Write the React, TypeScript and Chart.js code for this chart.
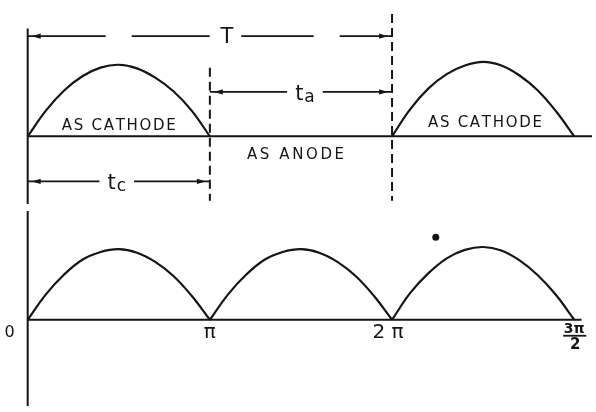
import React, { useEffect, useRef } from 'react';
import { Chart, registerables } from 'chart.js';

Chart.register(...registerables);

// ---- data (phase in units of pi, heights in units of peak amplitude) ----
const humpPhase = [0, 0.1, 0.2, 0.3, 0.4, 0.5, 0.6, 0.7, 0.8, 0.9, 1];
const topHump1 = [0, 0.36, 0.64, 0.84, 0.96, 1.0, 0.95, 0.82, 0.63, 0.36, 0];
const topHump2 = [0, 0.38, 0.67, 0.87, 0.99, 1.04, 0.99, 0.85, 0.64, 0.35, 0];
const bottomHump1 = [0, 0.36, 0.64, 0.85, 0.96, 1.0, 0.95, 0.82, 0.62, 0.34, 0];
const bottomHump2 = [0, 0.36, 0.64, 0.85, 0.96, 1.0, 0.95, 0.82, 0.62, 0.34, 0];
const bottomHump3 = [0, 0.38, 0.66, 0.87, 0.99, 1.03, 0.98, 0.84, 0.63, 0.35, 0];
const topHumpStarts = [0, 2];
const bottomHumpStarts = [0, 1, 2];

const halfCycleMarks = [1, 2];            // dashed verticals (pi, 2pi)
const strayDot = { x: 2.24, y: 1.17 };

const intervalNames = ['T', 't_a', 't_c'];
const intervalStart = [0, 1, 0];
const intervalEnd = [2, 2, 1];
const intervalLevel = [1.4, 0.62, -0.63];

const regionLabels = ['AS CATHODE', 'AS ANODE', 'AS CATHODE'];
const regionCenters = [0.5, 1.47, 2.51];
const regionLevels = [0.15, -0.26, 0.19];

const tickValues = [0, 1, 2, 3];
const tickLabels = ['0', 'π', '2 π', '3π/2'];

// ---- layout (scale ranges chosen so the drawing fills the canvas) ----
const W = 596;
const H = 412;
const X_MIN = -0.13;
const X_MAX = 3.0975;
const YT_MIN = -3.795;
const YT_MAX = 1.849;
const YB_MIN = -1.25;
const YB_MAX = 4.472;
const INK = '#151515';

const humpPoints = (start: number, heights: number[]) =>
  humpPhase.map((p, i) => ({ x: start + p, y: heights[i] }));

const drawArrowHead = (ctx: CanvasRenderingContext2D, tipX: number, y: number, dir: number) => {
  const len = 9;
  const hw = 2.6;
  ctx.beginPath();
  ctx.moveTo(tipX, y);
  ctx.lineTo(tipX - dir * len, y - hw);
  ctx.lineTo(tipX - dir * len, y + hw);
  ctx.closePath();
  ctx.fill();
};

const drawSpaced = (ctx: CanvasRenderingContext2D, text: string, cx: number, cy: number, spacing: number) => {
  const widths = Array.from(text).map((c) => ctx.measureText(c).width);
  const total = widths.reduce((a, b) => a + b, 0) + spacing * (text.length - 1);
  let x = cx - total / 2;
  ctx.textAlign = 'left';
  Array.from(text).forEach((c, i) => {
    ctx.fillText(c, x, cy);
    x += widths[i] + spacing;
  });
};

const labelOffsets: Record<string, number> = { T: 17, t_a: 4, t_c: -2 };

const annotationPlugin = {
  id: 'diagramText',
  afterDatasetsDraw(chart: any) {
    const ctx: CanvasRenderingContext2D = chart.ctx;
    const xs = chart.scales.x;
    const yt = chart.scales.yTop;
    const yb = chart.scales.yBot;
    ctx.save();
    ctx.fillStyle = INK;
    ctx.strokeStyle = INK;
    ctx.textBaseline = 'middle';

    // interval arrows: heads + labels
    intervalNames.forEach((name, i) => {
      const x0 = xs.getPixelForValue(intervalStart[i]);
      const x1 = xs.getPixelForValue(intervalEnd[i]);
      const y = yt.getPixelForValue(intervalLevel[i]);
      drawArrowHead(ctx, x0 + 4, y, -1);
      drawArrowHead(ctx, x1 - 4, y, 1);
      const cx = (x0 + x1) / 2 + (labelOffsets[name] || 0);
      const [main, sub] = name.split('_');
      ctx.font = '21px "DejaVu Sans"';
      const mw = ctx.measureText(main).width;
      let sw = 0;
      if (sub) {
        ctx.font = '17px "DejaVu Sans"';
        sw = ctx.measureText(sub).width + 1;
      }
      const total = mw + sw;
      ctx.fillStyle = '#ffffff';
      ctx.fillRect(cx - total / 2 - 8, y - 10, total + 16, 20);
      ctx.fillStyle = INK;
      ctx.textAlign = 'left';
      ctx.textBaseline = 'alphabetic';
      ctx.font = '21px "DejaVu Sans"';
      const base = main === 'T' ? y + 7 : y + 8;
      ctx.fillText(main, cx - total / 2, base);
      if (sub) {
        ctx.font = '17px "DejaVu Sans"';
        ctx.fillText(sub, cx - total / 2 + mw + 1, base + 2);
      }
      ctx.textBaseline = 'middle';
    });

    // region captions
    ctx.font = '15px "DejaVu Sans"';
    regionLabels.forEach((t, i) => {
      const cx = xs.getPixelForValue(regionCenters[i]);
      const cy = yt.getPixelForValue(regionLevels[i]);
      drawSpaced(ctx, t, cx, cy, t === 'AS ANODE' ? 2.6 : 1.7);
    });

    // bottom tick labels
    const by = yb.getPixelForValue(0);
    tickLabels.forEach((lab, i) => {
      const px = xs.getPixelForValue(tickValues[i]);
      if (lab.includes('/')) {
        const [num, den] = lab.split('/');
        ctx.font = 'bold 14px "DejaVu Sans"';
        ctx.textAlign = 'center';
        ctx.fillText(num, px, by + 10);
        ctx.lineWidth = 1.8;
        ctx.beginPath();
        ctx.moveTo(px - 11, by + 16);
        ctx.lineTo(px + 12, by + 16);
        ctx.stroke();
        ctx.font = 'bold 15px "DejaVu Sans"';
        ctx.fillText(den, px + 1, by + 25);
      } else if (tickValues[i] === 0) {
        ctx.font = '16px "DejaVu Sans"';
        ctx.textAlign = 'center';
        ctx.fillText(lab, px - 18, by + 13);
      } else {
        ctx.font = '20px "DejaVu Sans"';
        ctx.textAlign = 'center';
        ctx.fillText(lab, px - (lab.length > 1 ? 4 : 0), by + 13);
      }
    });
    ctx.restore();
  },
};

const lineDs = (data: any[], yAxisID: string, extra: any = {}) => ({
  data,
  yAxisID,
  xAxisID: 'x',
  showLine: true,
  borderColor: INK,
  borderWidth: 2,
  pointRadius: 0,
  tension: 0,
  clip: false,
  ...extra,
});

export default function App() {
  const ref = useRef<HTMLCanvasElement | null>(null);

  useEffect(() => {
    if (!ref.current) return;
    const curve = { tension: 0.4, borderWidth: 2.2 };
    const datasets: any[] = [
      // top panel
      lineDs([{ x: 0, y: 0 }, { x: X_MAX, y: 0 }], 'yTop'),
      lineDs([{ x: 0, y: 1.507 }, { x: 0, y: -0.945 }], 'yTop'),
      lineDs([{ x: halfCycleMarks[0], y: 0.96 }, { x: halfCycleMarks[0], y: -0.9 }], 'yTop', { borderDash: [9, 5] }),
      lineDs([{ x: halfCycleMarks[1], y: 1.71 }, { x: halfCycleMarks[1], y: -0.9 }], 'yTop', { borderDash: [9, 5] }),
      lineDs(humpPoints(topHumpStarts[0], topHump1), 'yTop', curve),
      lineDs(humpPoints(topHumpStarts[1], topHump2), 'yTop', curve),
      // interval arrows
      lineDs([{ x: intervalStart[0], y: intervalLevel[0] }, { x: intervalEnd[0], y: intervalLevel[0] }], 'yTop', { borderDash: [78, 26], borderWidth: 1.8 }),
      lineDs([{ x: intervalStart[1], y: intervalLevel[1] }, { x: intervalEnd[1], y: intervalLevel[1] }], 'yTop', { borderWidth: 1.8 }),
      lineDs([{ x: intervalStart[2], y: intervalLevel[2] }, { x: intervalEnd[2], y: intervalLevel[2] }], 'yTop', { borderWidth: 1.8 }),
      // bottom panel
      lineDs([{ x: 0, y: 0 }, { x: 3.04, y: 0 }], 'yBot'),
      lineDs([{ x: 0, y: 1.54 }, { x: 0, y: -1.22 }], 'yBot'),
      lineDs(humpPoints(bottomHumpStarts[0], bottomHump1), 'yBot', curve),
      lineDs(humpPoints(bottomHumpStarts[1], bottomHump2), 'yBot', curve),
      lineDs(humpPoints(bottomHumpStarts[2], bottomHump3), 'yBot', curve),
      {
        data: [strayDot],
        yAxisID: 'yBot',
        xAxisID: 'x',
        showLine: false,
        pointRadius: 3.5,
        pointBackgroundColor: INK,
        pointBorderWidth: 0,
        clip: false,
      },
    ];

    const chart = new Chart(ref.current, {
      type: 'scatter',
      data: { datasets },
      options: {
        animation: false,
        responsive: false,
        devicePixelRatio: 1,
        events: [],
        layout: { padding: 0 },
        plugins: {
          legend: { display: false },
          tooltip: { enabled: false },
          title: { display: false },
        },
        scales: {
          x: { type: 'linear', display: false, min: X_MIN, max: X_MAX },
          yTop: { type: 'linear', display: false, min: YT_MIN, max: YT_MAX },
          yBot: { type: 'linear', display: false, min: YB_MIN, max: YB_MAX },
        },
      } as any,
      plugins: [annotationPlugin],
    });
    return () => chart.destroy();
  }, []);

  return (
    <div style={{ position: 'fixed', left: 0, top: 0, width: W, height: H, background: '#ffffff' }}>
      <canvas ref={ref} width={W} height={H} style={{ display: 'block', width: W, height: H }} />
    </div>
  );
}
